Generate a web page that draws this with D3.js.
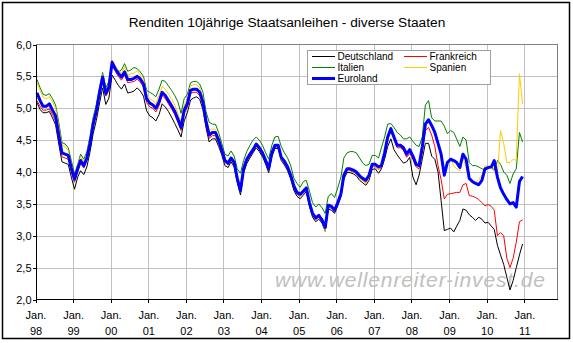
<!DOCTYPE html>
<html><head><meta charset="utf-8">
<script src="https://cdn.jsdelivr.net/npm/d3@7"></script>
<style>body{margin:0;background:#fff} svg text{font-family:"Liberation Sans",Arial,sans-serif}</style>
</head><body><svg id="chart" width="573" height="343"></svg>
<script>
const title = "Renditen 10jährige Staatsanleihen - diverse Staaten";
const startYear = 1998;
const yearLabels = ["98","99","00","01","02","03","04","05","06","07","08","09","10","11"];
const yTicks = [2.0,2.5,3.0,3.5,4.0,4.5,5.0,5.5,6.0];
const seriesNames = ["Deutschland","Frankreich","Italien","Spanien","Euroland"];

const deutschland = [
5.09,4.98,4.93,4.93,4.95,4.85,4.74,4.44,4.16,4.14,4.12,3.92,
3.73,3.92,4.02,3.96,4.08,4.32,4.60,4.81,5.08,5.32,5.06,5.16,
5.52,5.44,5.36,5.30,5.38,5.24,5.25,5.27,5.32,5.27,5.19,4.96,
4.88,4.85,4.80,4.90,5.07,5.02,4.95,4.86,4.76,4.66,4.55,4.80,
4.93,5.13,5.16,5.18,5.14,4.98,4.70,4.47,4.52,4.52,4.40,4.27,
4.10,4.07,4.16,4.08,3.83,3.64,3.98,4.13,4.22,4.30,4.38,4.32,
4.24,4.12,3.99,4.24,4.37,4.37,4.18,4.11,4.02,3.89,3.71,3.62,
3.58,3.64,3.69,3.46,3.29,3.22,3.26,3.20,3.07,3.42,3.40,3.35,
3.47,3.61,3.89,3.99,3.99,3.97,3.94,3.87,3.83,3.79,3.87,4.04,
4.05,3.98,4.05,4.20,4.40,4.52,4.35,4.27,4.20,4.14,4.16,4.23,
3.92,3.80,3.95,4.20,4.45,4.45,4.25,4.20,4.00,3.55,3.08,3.10,
3.12,3.06,3.15,3.24,3.42,3.40,3.33,3.29,3.24,3.29,3.26,3.20,
3.21,3.15,3.10,2.85,2.70,2.55,2.35,2.15,2.30,2.50,2.70,2.87];

const frankreich = [
5.12,5.03,4.97,4.97,4.99,4.90,4.80,4.50,4.24,4.22,4.20,4.00,
3.84,4.00,4.14,4.06,4.18,4.41,4.71,4.92,5.20,5.45,5.19,5.28,
5.68,5.58,5.50,5.44,5.53,5.40,5.41,5.42,5.46,5.41,5.33,5.09,
5.02,5.00,4.94,5.04,5.20,5.15,5.07,4.99,4.90,4.78,4.65,4.92,
5.02,5.23,5.25,5.25,5.20,5.05,4.75,4.53,4.57,4.57,4.45,4.31,
4.15,4.11,4.19,4.12,3.87,3.68,4.02,4.17,4.25,4.32,4.41,4.35,
4.27,4.15,4.02,4.27,4.39,4.39,4.20,4.14,4.05,3.92,3.75,3.65,
3.62,3.67,3.72,3.49,3.32,3.25,3.29,3.22,3.10,3.45,3.43,3.37,
3.49,3.63,3.92,4.02,4.02,4.00,3.97,3.91,3.87,3.84,3.92,4.09,
4.08,4.04,4.07,4.27,4.51,4.64,4.51,4.38,4.38,4.34,4.23,4.29,
4.20,4.08,4.05,4.30,4.65,4.70,4.58,4.40,4.10,3.88,3.58,3.65,
3.66,3.67,3.68,3.68,3.80,3.82,3.63,3.62,3.60,3.57,3.52,3.47,
3.49,3.46,3.40,3.00,3.05,3.00,2.65,2.50,2.65,2.90,3.22,3.25];

const italien = [
5.45,5.32,5.22,5.20,5.23,5.15,5.05,4.78,4.46,4.44,4.38,4.18,
3.97,4.12,4.28,4.20,4.32,4.56,4.86,5.05,5.32,5.56,5.32,5.42,
5.75,5.62,5.57,5.60,5.70,5.58,5.60,5.64,5.62,5.57,5.50,5.28,
5.25,5.22,5.18,5.30,5.44,5.42,5.35,5.28,5.20,5.10,4.92,5.15,
5.22,5.40,5.42,5.42,5.38,5.25,4.95,4.78,4.75,4.75,4.62,4.45,
4.28,4.25,4.33,4.25,4.05,3.98,4.18,4.32,4.42,4.50,4.55,4.50,
4.42,4.30,4.20,4.42,4.55,4.56,4.40,4.30,4.22,4.10,3.90,3.82,
3.76,3.85,3.87,3.70,3.52,3.45,3.50,3.44,3.35,3.62,3.66,3.60,
3.75,3.92,4.22,4.30,4.32,4.32,4.30,4.22,4.14,4.10,4.12,4.26,
4.26,4.22,4.38,4.55,4.75,4.76,4.70,4.62,4.58,4.52,4.52,4.55,
4.48,4.42,4.40,4.55,5.05,5.12,4.85,4.80,4.80,4.80,4.72,4.60,
4.65,4.62,4.52,4.40,4.55,4.50,4.15,4.10,4.10,4.08,4.05,4.03,
4.06,4.08,4.03,4.18,4.12,4.00,3.95,3.82,3.97,4.05,4.62,4.47];

const spanien = [
5.40,5.28,5.17,5.15,5.18,5.10,5.00,4.72,4.42,4.40,4.33,4.12,
3.93,4.10,4.24,4.16,4.28,4.52,4.83,5.02,5.30,5.53,5.28,5.38,
5.76,5.66,5.60,5.55,5.65,5.52,5.54,5.55,5.59,5.52,5.46,5.22,
5.15,5.12,5.07,5.20,5.34,5.30,5.22,5.14,5.05,4.92,4.78,5.05,
5.14,5.35,5.37,5.37,5.32,5.17,4.88,4.65,4.67,4.67,4.55,4.40,
4.19,4.14,4.21,4.14,3.88,3.69,4.03,4.19,4.27,4.34,4.43,4.37,
4.29,4.17,4.03,4.29,4.41,4.41,4.21,4.15,4.06,3.93,3.76,3.66,
3.63,3.68,3.73,3.50,3.33,3.26,3.30,3.23,3.08,3.45,3.44,3.38,
3.50,3.64,3.93,4.03,4.03,4.01,3.98,3.90,3.86,3.82,3.91,4.09,
4.10,4.04,4.10,4.28,4.55,4.66,4.52,4.40,4.40,4.36,4.28,4.34,
4.25,4.12,4.10,4.38,4.72,4.82,4.73,4.62,4.45,4.28,3.98,4.15,
4.22,4.10,4.05,4.02,4.25,4.05,3.88,3.82,3.83,3.88,3.95,4.10,
4.08,4.05,4.02,3.95,4.65,4.45,4.15,4.15,4.20,4.18,5.54,5.07];

const euroland = [
5.24,5.12,5.03,5.03,5.07,4.97,4.88,4.58,4.30,4.28,4.26,4.06,
3.89,4.05,4.18,4.10,4.22,4.45,4.75,4.96,5.25,5.49,5.23,5.33,
5.72,5.62,5.55,5.49,5.57,5.45,5.45,5.47,5.50,5.46,5.38,5.15,
5.08,5.05,5.00,5.10,5.25,5.20,5.12,5.04,4.95,4.83,4.70,4.97,
5.07,5.28,5.30,5.30,5.25,5.10,4.80,4.58,4.62,4.62,4.50,4.35,
4.18,4.14,4.22,4.15,3.90,3.71,4.05,4.20,4.28,4.35,4.44,4.38,
4.30,4.18,4.05,4.30,4.42,4.42,4.23,4.17,4.08,3.95,3.78,3.68,
3.65,3.70,3.75,3.52,3.35,3.28,3.32,3.25,3.13,3.48,3.46,3.40,
3.52,3.66,3.95,4.05,4.05,4.03,4.00,3.94,3.90,3.87,3.95,4.12,
4.12,4.08,4.10,4.30,4.55,4.68,4.55,4.42,4.42,4.38,4.28,4.35,
4.25,4.12,4.10,4.40,4.75,4.82,4.73,4.62,4.45,4.28,3.95,4.15,
4.20,4.18,4.15,4.07,4.28,4.20,3.90,3.85,3.82,3.80,3.87,4.05,
4.07,4.08,4.18,3.92,3.75,3.65,3.57,3.50,3.52,3.45,3.85,3.93];

const colors = {Deutschland:"#000000",Frankreich:"#ff0000",Italien:"#008000",Spanien:"#ffcc00",Euroland:"#0000ff"};
const widths = {Deutschland:1,Frankreich:1,Italien:1,Spanien:1,Euroland:3};
const seriesData = {Deutschland:deutschland,Frankreich:frankreich,Italien:italien,Spanien:spanien,Euroland:euroland};

const svg = d3.select("#chart");
const L = 35.5, R = 557.5, T = 44.5, B = 299.5;

svg.append("rect").attr("x",0).attr("y",0).attr("width",573).attr("height",343).attr("fill","#fff");
svg.append("rect").attr("x",2.5).attr("y",2.5).attr("width",567).attr("height",336)
  .attr("fill","none").attr("stroke","#000").attr("stroke-width",1.5);

svg.append("text").attr("x",287).attr("y",27).attr("text-anchor","middle")
  .attr("font-size",13.7).attr("fill","#000").text(title);

const x = d3.scaleTime().domain([new Date(startYear,0,1), new Date(startYear+13,0,1)]).range([L, 524.3]);
const y = d3.scaleLinear().domain([2,6]).range([B, T]);

const years = yearLabels.map((d,i)=>new Date(startYear+i,0,1));

// grid
svg.append("g").selectAll("line").data(yTicks.filter(d=>d>2 && d<6)).join("line")
  .attr("x1",L).attr("x2",R).attr("y1",d=>Math.round(y(d))+0.5).attr("y2",d=>Math.round(y(d))+0.5)
  .attr("stroke","#c0c0c0").attr("shape-rendering","crispEdges");
svg.append("g").selectAll("line").data(years.slice(1)).join("line")
  .attr("x1",d=>Math.round(x(d))+0.5).attr("x2",d=>Math.round(x(d))+0.5).attr("y1",T).attr("y2",B)
  .attr("stroke","#c0c0c0").attr("shape-rendering","crispEdges");
svg.append("path").attr("d",`M${L},${T}H${R}V${B}`).attr("fill","none")
  .attr("stroke","#808080").attr("shape-rendering","crispEdges");

// watermark
svg.append("text").attr("x",275).attr("y",287).attr("font-size",21).attr("font-style","italic")
  .attr("fill","#c0c0c0").attr("textLength",270).attr("lengthAdjust","spacing")
  .text("www.wellenreiter-invest.de");

// lines
const line = d3.line().x((d,i)=>x(new Date(startYear,i,15))).y(d=>y(d));
seriesNames.forEach(n=>{
  svg.append("path").datum(seriesData[n]).attr("d",line).attr("fill","none")
    .attr("stroke",colors[n]).attr("stroke-width",widths[n]).attr("stroke-linejoin","round");
});

// axes
const yAxis = svg.append("g").attr("transform",`translate(${L},0)`)
  .call(d3.axisLeft(y).tickValues(yTicks).tickSize(3).tickSizeOuter(0).tickFormat(d=>d.toFixed(1).replace(".",",")));
yAxis.select(".domain").attr("stroke","#000");
yAxis.selectAll("text").attr("font-size",11).attr("font-family","Liberation Sans, Arial, sans-serif").attr("x",-4);
yAxis.selectAll("line").attr("shape-rendering","crispEdges");
yAxis.select(".domain").attr("shape-rendering","crispEdges");

const xAxis = svg.append("g").attr("transform",`translate(0,${B})`)
  .call(d3.axisBottom(x).tickValues(years).tickSize(3).tickSizeOuter(0).tickFormat(""));
xAxis.select(".domain").attr("stroke","#000").attr("d",`M${L},0H${R}`).attr("shape-rendering","crispEdges");
xAxis.selectAll("line").attr("shape-rendering","crispEdges");
xAxis.selectAll(".tick").each(function(d,i){
  const g = d3.select(this);
  g.select("text").remove();
  g.append("text").attr("y",19).attr("text-anchor","middle").attr("font-size",11).attr("fill","#000").text("Jan.");
  g.append("text").attr("y",35).attr("text-anchor","middle").attr("font-size",11).attr("fill","#000").text(yearLabels[i]);
});

// legend
const lg = svg.append("g");
lg.append("rect").attr("x",307.5).attr("y",50.5).attr("width",183).attr("height",34)
  .attr("fill","#fff").attr("stroke","#a0a0a0").attr("shape-rendering","crispEdges");
const legendPos = [
  {n:"Deutschland",x:312,y:56.5},{n:"Frankreich",x:404,y:56.5},
  {n:"Italien",x:312,y:67.5},{n:"Spanien",x:404,y:67.5},
  {n:"Euroland",x:312,y:78.5}];
legendPos.forEach(p=>{
  lg.append("line").attr("x1",p.x).attr("x2",p.x+23).attr("y1",p.y).attr("y2",p.y)
    .attr("stroke",colors[p.n]).attr("stroke-width",widths[p.n]===3?3:1);
  lg.append("text").attr("x",p.x+25.5).attr("y",p.y+3.6).attr("font-size",10).attr("fill","#000").text(p.n);
});
</script></body></html>
